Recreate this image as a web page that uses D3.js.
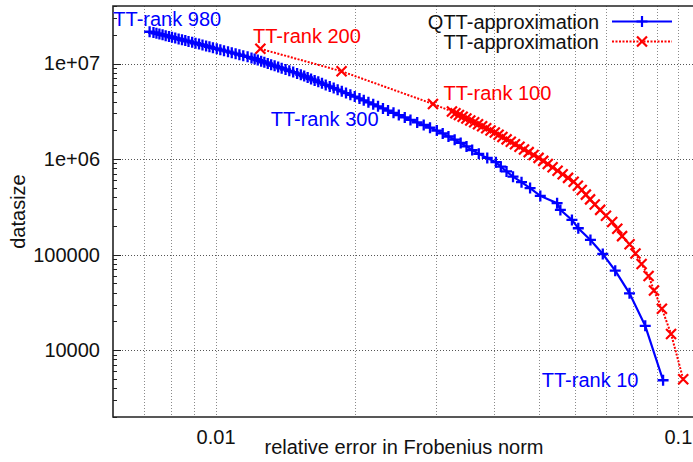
<!DOCTYPE html>
<html>
<head>
<meta charset="utf-8">
<script src="https://cdn.jsdelivr.net/npm/d3@7"></script>
<style>
body { margin: 0; background: #fff; }
text { font-family: "Liberation Sans", Arial, Helvetica, sans-serif; font-size: 20px; }
</style>
</head>
<body>
<script>
// QTT approximation, TT-rank 10 .. 980 (step 10)
var qttError = [
    0.0929, 0.0850, 0.0786, 0.0732, 0.0688, 0.0647, 0.0609, 0.0590, 0.0557, 0.0548,
    0.0504, 0.0479, 0.0459, 0.0440, 0.0426, 0.0414, 0.0404, 0.0387, 0.0371, 0.0359,
    0.0349, 0.0339, 0.0329, 0.0319, 0.0310, 0.0301, 0.0291, 0.0282, 0.0273, 0.0264,
    0.02566, 0.02491, 0.02426, 0.02361, 0.02302, 0.02246, 0.02193, 0.02141, 0.02092, 0.02048,
    0.02000, 0.01957, 0.01915, 0.01875, 0.01837, 0.01801, 0.01766, 0.01731, 0.01699, 0.01668,
    0.01638, 0.01609, 0.01582, 0.01555, 0.01529, 0.01501, 0.01472, 0.01444, 0.01417, 0.01390,
    0.01366, 0.01342, 0.01319, 0.01297, 0.01275, 0.01255, 0.01234, 0.01215, 0.01196, 0.01173,
    0.01148, 0.01126, 0.01105, 0.01084, 0.01064, 0.01043, 0.01024, 0.01006, 0.00987, 0.00970,
    0.00954, 0.00937, 0.00921, 0.00905, 0.00890, 0.00874, 0.00860, 0.00846, 0.00832, 0.00818,
    0.00805, 0.00793, 0.00780, 0.00768, 0.00756, 0.00745, 0.00734, 0.00720
];
var qttSize = [
    4850, 18000, 39400, 67900, 101600, 142600, 189000, 231000, 294000, 346000,
    412000, 497000, 574000, 655000, 742000, 833000, 928000, 1029000, 1134000, 1243000,
    1357000, 1475000, 1597000, 1724000, 1855000, 1990000, 2130000, 2273000, 2420000, 2572000,
    2729000, 2887000, 3052000, 3220000, 3392000, 3567000, 3746000, 3931000, 4119000, 4310000,
    4505000, 4703000, 4908000, 5115000, 5324000, 5540000, 5756000, 5977000, 6203000, 6432000,
    6664000, 6900000, 7141000, 7384000, 7632000, 7882000, 8137000, 8392000, 8657000, 8923000,
    9188000, 9463000, 9734000, 10016000, 10300000, 10580000, 10870000, 11170000, 11460000, 11760000,
    12060000, 12370000, 12680000, 12990000, 13310000, 13630000, 13960000, 14280000, 14610000, 14950000,
    15280000, 15620000, 15970000, 16310000, 16660000, 17020000, 17370000, 17730000, 18090000, 18460000,
    18830000, 19200000, 19580000, 19960000, 20340000, 20730000, 21120000, 21510000
];

// TT approximation (dense low ranks, then TT-rank 100, 150, 200)
var ttError = [
    0.1027, 0.09667, 0.09235, 0.08879, 0.08643, 0.08347, 0.08097, 0.07862, 0.07574, 0.07395,
    0.07210, 0.06990, 0.06791, 0.06611, 0.06458, 0.06324, 0.06196, 0.06077, 0.05951, 0.05787,
    0.05634, 0.05493, 0.05358, 0.05231, 0.05115, 0.04997, 0.04874, 0.04757, 0.04647, 0.04544,
    0.04443, 0.04351, 0.04261, 0.04173, 0.04095, 0.04018, 0.03933, 0.03850, 0.03772, 0.03696,
    0.03626, 0.03556, 0.03488, 0.03424, 0.03361, 0.03303, 0.03246, 0.02953, 0.01873, 0.01250
];
var ttSize = [
    4970, 14800, 27200, 42200, 59800, 80000, 102800, 128200, 156200, 186800,
    220000, 255800, 294200, 335200, 378800, 425000, 473800, 525200, 579200, 635800,
    695000, 756800, 821200, 888200, 957800, 1030000, 1105000, 1182000, 1262000, 1345000,
    1430000, 1518000, 1608000, 1701000, 1797000, 1895000, 1996000, 2099000, 2205000, 2314000,
    2425000, 2539000, 2655000, 2774000, 2896000, 3020000, 3147000, 3778000, 8300000, 14260000
];

// point annotations (data coordinates)
var labelText   = ["TT-rank 980", "TT-rank 200", "TT-rank 300", "TT-rank 100", "TT-rank 10"];
var labelError  = [0.00601, 0.01205, 0.02252, 0.03112, 0.08219];
var labelSize   = [2.50e7, 1.649e7, 2.237e6, 4.19e6, 4121];
var labelSeries = ["qtt", "tt", "qtt", "tt", "qtt"];

var seriesNames = ["QTT-approximation", "TT-approximation"];

var yTickValues = [1e4, 1e5, 1e6, 1e7];
var yTickLabels = ["10000", "100000", "1e+06", "1e+07"];
var xTickValues = [0.01, 0.1];
var xTickLabels = ["0.01", "0.1"];

var width = 693, height = 462;
var plot = {left: 113, right: 697, top: 6, bottom: 417};

var x = d3.scaleLog().domain([0.006, 0.11]).range([plot.left, plot.right]);
var y = d3.scaleLog().domain([2000, 4e7]).range([plot.bottom, plot.top]);

var color = {qtt: "#0000ff", tt: "#ff0000"};

var svg = d3.select("body").append("svg")
    .attr("width", width)
    .attr("height", height);

svg.append("clipPath").attr("id", "clip")
    .append("rect")
    .attr("x", plot.left).attr("y", plot.top)
    .attr("width", plot.right - plot.left).attr("height", plot.bottom - plot.top);

// grid: x on every (minor) tick, y on decades
svg.append("g").selectAll("line")
    .data(x.ticks().filter(function (d) { return d > 0.0061; }))
    .enter().append("line")
    .attr("x1", function (d) { return Math.round(x(d)) + 0.5; })
    .attr("x2", function (d) { return Math.round(x(d)) + 0.5; })
    .attr("y1", plot.top).attr("y2", plot.bottom)
    .attr("stroke", "#8a8a8a").attr("stroke-width", 1)
    .attr("stroke-dasharray", "1,2");

svg.append("g").selectAll("line")
    .data(yTickValues)
    .enter().append("line")
    .attr("x1", plot.left).attr("x2", plot.right)
    .attr("y1", function (d) { return Math.round(y(d)) + 0.5; })
    .attr("y2", function (d) { return Math.round(y(d)) + 0.5; })
    .attr("stroke", "#555").attr("stroke-width", 1)
    .attr("stroke-dasharray", "1,2");

// left minor/major tick marks
svg.append("g").selectAll("line")
    .data(y.ticks())
    .enter().append("line")
    .attr("x1", plot.left)
    .attr("x2", function (d) { return plot.left + (yTickValues.indexOf(d) >= 0 ? 8 : 4); })
    .attr("y1", function (d) { return Math.round(y(d)) + 0.5; })
    .attr("y2", function (d) { return Math.round(y(d)) + 0.5; })
    .attr("stroke", "#222").attr("stroke-width", 1);

// axes (labels only)
var yAxis = d3.axisLeft(y).tickValues(yTickValues)
    .tickFormat(function (d, i) { return yTickLabels[i]; })
    .tickSize(0).tickPadding(13);
var xAxis = d3.axisBottom(x).tickValues(xTickValues)
    .tickFormat(function (d, i) { return xTickLabels[i]; })
    .tickSize(0).tickPadding(13);

svg.append("g").attr("transform", "translate(" + plot.left + ",0)").call(yAxis);
svg.append("g").attr("transform", "translate(0," + plot.bottom + ")").call(xAxis);
svg.selectAll(".domain").remove();
svg.selectAll(".tick text")
    .style("font-family", "\"Liberation Sans\", Arial, sans-serif")
    .style("font-size", "20px")
    .attr("fill", "#111");

// border
svg.append("path")
    .attr("d", "M" + plot.right + "," + plot.top + "H" + plot.left + "V" + plot.bottom + "H" + plot.right)
    .attr("fill", "none").attr("stroke", "#222").attr("stroke-width", 1.6);

// titles
svg.append("text")
    .attr("text-anchor", "middle")
    .attr("transform", "translate(25," + (plot.top + plot.bottom) / 2 + ") rotate(-90)")
    .attr("fill", "#111")
    .text("datasize");
svg.append("text")
    .attr("text-anchor", "middle")
    .attr("x", 404).attr("y", 454)
    .attr("fill", "#111")
    .text("relative error in Frobenius norm");

// data
var qttData = d3.zip(qttError, qttSize);
var ttData = d3.zip(ttError, ttSize);

var line = d3.line()
    .x(function (d) { return x(d[0]); })
    .y(function (d) { return y(d[1]); });

var plus = "M-5.5,0H5.5M0,-5.5V5.5";
var cross = "M-5,-5L5,5M-5,5L5,-5";

var dataG = svg.append("g").attr("clip-path", "url(#clip)");

dataG.append("path").datum(ttData)
    .attr("d", line).attr("fill", "none")
    .attr("stroke", color.tt).attr("stroke-width", 2)
    .attr("stroke-dasharray", "2,1.5");
dataG.append("g").selectAll("path")
    .data(ttData).enter().append("path")
    .attr("transform", function (d) { return "translate(" + x(d[0]) + "," + y(d[1]) + ")"; })
    .attr("d", cross).attr("stroke", color.tt).attr("stroke-width", 2.2);

dataG.append("path").datum(qttData)
    .attr("d", line).attr("fill", "none")
    .attr("stroke", color.qtt).attr("stroke-width", 2.2);
dataG.append("g").selectAll("path")
    .data(qttData).enter().append("path")
    .attr("transform", function (d) { return "translate(" + x(d[0]) + "," + y(d[1]) + ")"; })
    .attr("d", plus).attr("stroke", color.qtt).attr("stroke-width", 2.3);

// annotations
svg.append("g").selectAll("text")
    .data(labelText).enter().append("text")
    .attr("x", function (d, i) { return x(labelError[i]); })
    .attr("y", function (d, i) { return y(labelSize[i]); })
    .attr("text-anchor", function (d, i) { return (i == 2 || i == 4) ? "end" : "start"; })
    .attr("fill", function (d, i) { return color[labelSeries[i]]; })
    .text(function (d) { return d; });

// legend
var legend = svg.append("g");
seriesNames.forEach(function (name, i) {
    var ly = 21.5 + i * 20;
    legend.append("text")
        .attr("x", 599).attr("y", ly + 7)
        .attr("text-anchor", "end").attr("fill", "#111")
        .text(name);
    var key = i == 0 ? "qtt" : "tt";
    legend.append("line")
        .attr("x1", 612).attr("x2", 672).attr("y1", ly).attr("y2", ly)
        .attr("stroke", color[key]).attr("stroke-width", 2)
        .attr("stroke-dasharray", i == 0 ? null : "2,1.5");
    legend.append("path")
        .attr("transform", "translate(642," + ly + ")")
        .attr("d", i == 0 ? plus : cross)
        .attr("stroke", color[key]).attr("stroke-width", 2.2);
});
</script>
</body>
</html>
